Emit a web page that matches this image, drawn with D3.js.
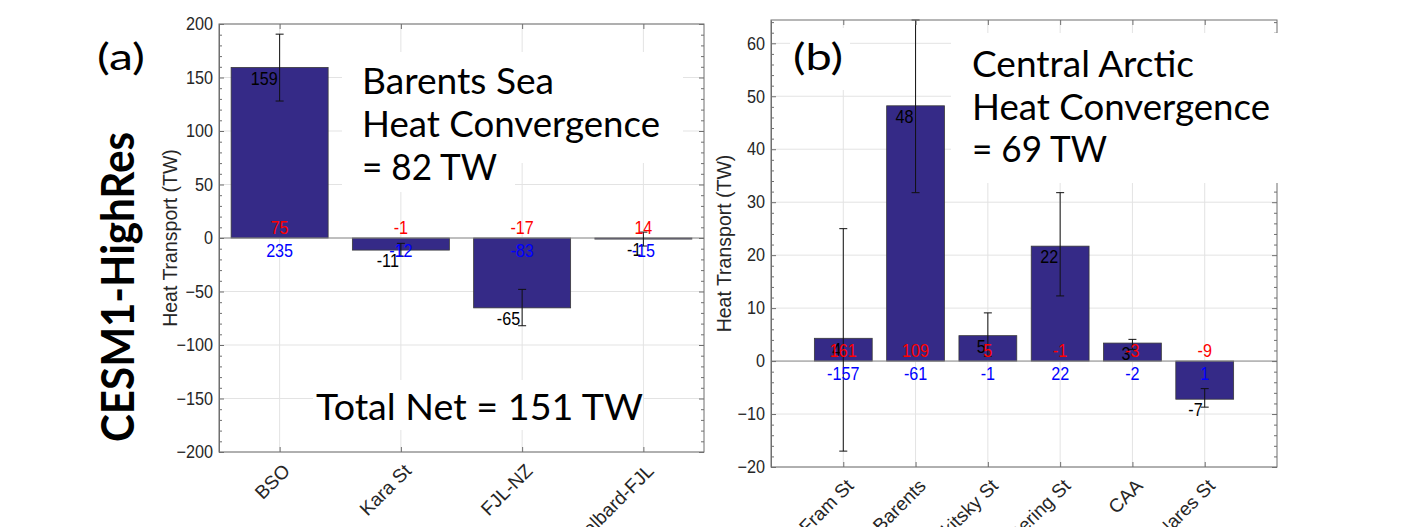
<!DOCTYPE html>
<html>
<head>
<meta charset="utf-8">
<script src="https://cdn.jsdelivr.net/npm/d3@7"></script>
<style>
  body { margin: 0; background: #fff; }
  svg { display: block; }
  .note { font-family: Lato, "Open Sans", sans-serif; fill: #000; }
</style>
</head>
<body>
<div id="chart"></div>
<script>
/* Heat transport bar charts, CESM1-HighRes */

// panel (a): Barents Sea gateways
const catsA = ["BSO", "Kara St", "FJL-NZ", "Svalbard-FJL"];
const netA = [159.4, -11.3, -65.3, -1.0];
const errLoA = [128, -17, -82, -7.5];
const errHiA = [190.5, -5, -48, 5.5];
const redA = [75, -1, -17, 14];
const blueA = [235, -12, -83, -15];
const ticksA = [-200, -150, -100, -50, 0, 50, 100, 150, 200];
const notesA = ["Barents Sea", "Heat Convergence", "= 82 TW"];
const totalA = "Total Net = 151 TW";

// panel (b): Central Arctic gateways
const catsB = ["Fram St", "Barents", "Vilkitsky St", "Bering St", "CAA", "Nares St"];
const netB = [4.3, 48.2, 4.8, 21.7, 3.4, -7.2];
const errLoB = [-17, 31.8, 0.9, 12.3, 2.2, -8.7];
const errHiB = [25, 64.4, 9.1, 31.8, 4.1, -5.2];
const redB = [161, 109, 5, -1, -3, -9];
const blueB = [-157, -61, -1, 22, -2, 1];
const ticksB = [-20, -10, 0, 10, 20, 30, 40, 50, 60];
const notesB = ["Central Arctic", "Heat Convergence", "= 69 TW"];

const width = 1419, height = 527;
const barColor = "#352a87", gridColor = "#e3e3e3", axisColor = "#6f6f6f";
const tickFont = "Liberation Sans, Arial, sans-serif";

const svg = d3.select("#chart")
  .append("svg")
  .attr("width", width)
  .attr("height", height);

// squeeze text a bit horizontally (matlab figure was narrowed)
function condense(sel, k) {
  sel.each(function () {
    const w = this.getComputedTextLength();
    this.setAttribute("textLength", w * k);
    this.setAttribute("lengthAdjust", "spacingAndGlyphs");
  });
}

function drawPanel(p) {
  const x = d3.scaleLinear().domain(p.xDomain).range([p.left, p.right]);
  const y = d3.scaleLinear().domain(p.yDomain).range([p.bottom, p.top]);
  const pos = p.cats.map((c, i) => i + 1);
  const bw = 0.8 * (x(2) - x(1));
  const g = svg.append("g");

  // grid
  g.append("g").selectAll("line").data(p.ticks).join("line")
    .attr("x1", p.left).attr("x2", p.right)
    .attr("y1", d => y(d)).attr("y2", d => y(d))
    .attr("stroke", gridColor);
  g.append("g").selectAll("line").data(pos).join("line")
    .attr("x1", d => x(d)).attr("x2", d => x(d))
    .attr("y1", p.top).attr("y2", p.bottom)
    .attr("stroke", gridColor);

  // bars
  g.append("g").selectAll("rect").data(p.net).join("rect")
    .attr("x", (d, i) => x(i + 1) - bw / 2)
    .attr("width", bw)
    .attr("y", d => y(Math.max(0, d)))
    .attr("height", d => Math.abs(y(d) - y(0)))
    .attr("fill", barColor)
    .attr("stroke", "#3a3a3a")
    .attr("stroke-width", 0.8);

  // baseline at zero
  g.append("line")
    .attr("x1", p.left).attr("x2", p.right)
    .attr("y1", y(0)).attr("y2", y(0))
    .attr("stroke", "#8c8c8c");

  // error bars
  const eb = g.append("g").attr("stroke", "#111").attr("stroke-width", 1);
  eb.selectAll(".stem").data(pos).join("line")
    .attr("x1", d => x(d)).attr("x2", d => x(d))
    .attr("y1", (d, i) => y(p.lo[i])).attr("y2", (d, i) => y(p.hi[i]));
  eb.selectAll(".capLo").data(pos).join("line")
    .attr("x1", d => x(d) - 4).attr("x2", d => x(d) + 4)
    .attr("y1", (d, i) => y(p.lo[i])).attr("y2", (d, i) => y(p.lo[i]));
  eb.selectAll(".capHi").data(pos).join("line")
    .attr("x1", d => x(d) - 4).attr("x2", d => x(d) + 4)
    .attr("y1", (d, i) => y(p.hi[i])).attr("y2", (d, i) => y(p.hi[i]));

  // value labels
  const lab = g.append("g").attr("font-family", tickFont).attr("font-size", 19);
  lab.selectAll(".net").data(p.net).join("text")
    .attr("x", (d, i) => x(i + 1) - 2)
    .attr("y", d => y(d) + 2)
    .attr("dy", "0.8em")
    .attr("text-anchor", "end")
    .attr("fill", "#000")
    .text(d => Math.round(d))
    .call(condense, 0.85);
  lab.selectAll(".red").data(p.red).join("text")
    .attr("x", (d, i) => x(i + 1))
    .attr("y", y(0) - 4)
    .attr("text-anchor", "middle")
    .attr("fill", "#ff0000")
    .text(d => d)
    .call(condense, 0.85);
  lab.selectAll(".blue").data(p.blue).join("text")
    .attr("x", (d, i) => x(i + 1))
    .attr("y", y(0) + 19)
    .attr("text-anchor", "middle")
    .attr("fill", "#0000ff")
    .text(d => d)
    .call(condense, 0.85);

  // frame
  g.append("rect")
    .attr("x", p.left).attr("y", p.top)
    .attr("width", p.right - p.left).attr("height", p.bottom - p.top)
    .attr("fill", "none").attr("stroke", axisColor);

  // y axis, ticks pointing inwards
  const minor = d3.range(p.yDomain[0], p.yDomain[1] + 0.01, p.minorStep)
    .filter(v => !p.ticks.includes(v));

  const ya = g.append("g")
    .attr("transform", `translate(${p.left},0)`)
    .call(d3.axisLeft(y).tickValues(p.ticks).tickSize(-5).tickPadding(6).tickSizeOuter(0));
  ya.select(".domain").attr("stroke", axisColor);
  ya.selectAll(".tick line").attr("stroke", axisColor);
  ya.selectAll("text")
    .attr("font-size", 18).attr("font-family", tickFont).attr("fill", "#262626")
    .call(condense, 0.9);

  g.append("g").attr("transform", `translate(${p.left},0)`)
    .call(d3.axisLeft(y).tickValues(minor).tickSize(-3).tickFormat(""))
    .call(a => a.select(".domain").remove())
    .selectAll("line").attr("stroke", axisColor);
  g.append("g").attr("transform", `translate(${p.right},0)`)
    .call(d3.axisRight(y).tickValues(p.ticks).tickSize(-5).tickFormat(""))
    .call(a => a.select(".domain").remove())
    .selectAll("line").attr("stroke", axisColor);
  g.append("g").attr("transform", `translate(${p.right},0)`)
    .call(d3.axisRight(y).tickValues(minor).tickSize(-3).tickFormat(""))
    .call(a => a.select(".domain").remove())
    .selectAll("line").attr("stroke", axisColor);

  // x axis with rotated category names
  const xa = g.append("g")
    .attr("transform", `translate(0,${p.bottom})`)
    .call(d3.axisBottom(x).tickValues(pos).tickSize(-5).tickSizeOuter(0).tickFormat(i => p.cats[i - 1]));
  xa.select(".domain").remove();
  xa.selectAll(".tick line").attr("stroke", axisColor);
  xa.selectAll("text")
    .attr("font-size", 19).attr("font-family", tickFont).attr("fill", "#262626")
    .attr("text-anchor", "end")
    .attr("x", 0).attr("y", 0).attr("dy", 0)
    .attr("transform", "translate(11,20) rotate(-45)");

  g.append("g").attr("transform", `translate(0,${p.top})`)
    .call(d3.axisTop(x).tickValues(pos).tickSize(-5).tickFormat(""))
    .call(a => a.select(".domain").remove())
    .selectAll("line").attr("stroke", axisColor);

  // y label
  g.append("text")
    .attr("transform", `translate(${p.labelX},${(p.top + p.bottom) / 2}) rotate(-90)`)
    .attr("text-anchor", "middle")
    .attr("font-family", tickFont)
    .attr("font-size", 19.5)
    .attr("fill", "#262626")
    .text("Heat Transport (TW)");
}

drawPanel({
  cats: catsA, net: netA, lo: errLoA, hi: errHiA, red: redA, blue: blueA,
  ticks: ticksA, minorStep: 10,
  xDomain: [0.5, 4.5], yDomain: [-200, 200],
  left: 219, right: 704, top: 24, bottom: 452, labelX: 177
});

drawPanel({
  cats: catsB, net: netB, lo: errLoB, hi: errHiB, red: redB, blue: blueB,
  ticks: ticksB, minorStep: 2,
  xDomain: [0, 7], yDomain: [-20, 64.4],
  left: 771, right: 1277, top: 20, bottom: 467, labelX: 731
});

// white text boxes pasted over the axes
const boxes = [
  [342, 52, 341, 111], [342, 140, 173, 52], [313, 380, 330, 50],
  [790, 28, 60, 62], [951, 33, 349, 150]
];
svg.append("g").selectAll("rect").data(boxes).join("rect")
  .attr("x", d => d[0]).attr("y", d => d[1])
  .attr("width", d => d[2]).attr("height", d => d[3])
  .attr("fill", "#fff");

// annotation text
const noteSize = 36.5;
const note = (t, x, y, len) => svg.append("text")
  .attr("class", "note")
  .attr("x", x).attr("y", y)
  .attr("font-size", noteSize)
  .attr("textLength", len)
  .attr("lengthAdjust", "spacingAndGlyphs")
  .text(t);

note("(a)", 97, 70, 48);
note("(b)", 793, 70, 50);
note(notesA[0], 362, 94, 192);
note(notesA[1], 362, 137, 298);
note(notesA[2], 362, 180, 135);
note(totalA, 316, 420, 327);
note(notesB[0], 972, 77, 222);
note(notesB[1], 972, 120, 298);
note(notesB[2], 972, 162, 135);

svg.append("text")
  .attr("class", "note")
  .attr("transform", "translate(134,287) rotate(-90)")
  .attr("text-anchor", "middle")
  .attr("font-weight", "bold")
  .attr("font-size", 45)
  .attr("textLength", 310)
  .attr("lengthAdjust", "spacingAndGlyphs")
  .text("CESM1-HighRes");
</script>
</body>
</html>
